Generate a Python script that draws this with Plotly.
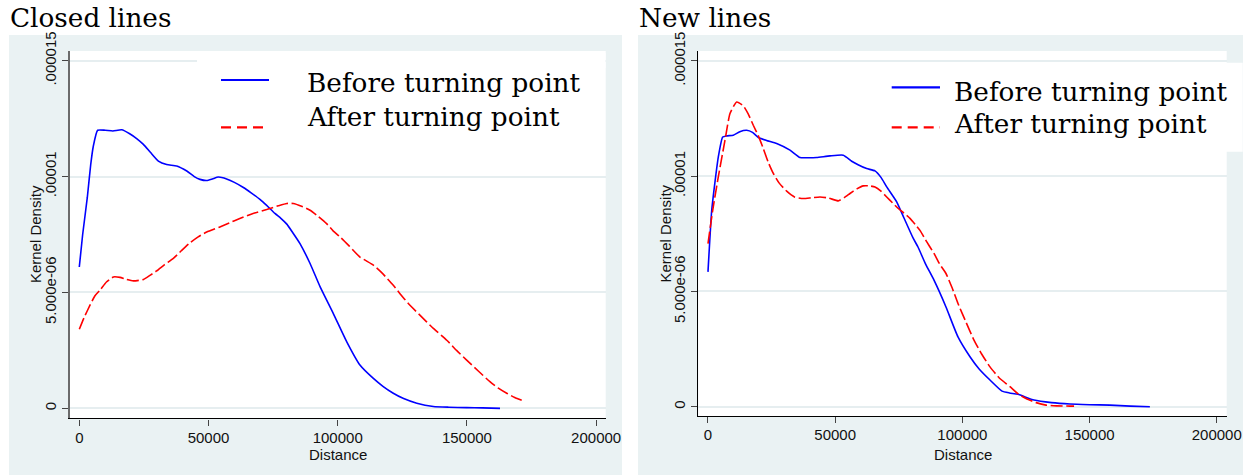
import plotly.graph_objects as go

W, H = 1257, 475

# ---------------- data (density values in units of 1e-6) ----------------
closed_before_x = [0, 1300, 3100, 4400, 5400, 7100, 10000, 13000, 16400, 19500, 22200, 24800,
                   27500, 30600, 33800, 37700, 41600, 44500, 46700, 49300, 51500, 53800, 57000,
                   60000, 63500, 66500, 69900, 72500, 75700, 78000, 80300, 82500, 85400, 89300,
                   93200, 98300, 103500, 108600, 113800, 117500, 121500, 125500, 130600, 137000,
                   143000, 149900, 156000, 162800]
closed_before_y = [6.10, 7.50, 9.10, 10.50, 11.30, 12.00, 12.00, 11.97, 12.02, 11.85, 11.64, 11.39,
                   11.05, 10.67, 10.52, 10.46, 10.24, 10.00, 9.88, 9.83, 9.90, 9.98, 9.90,
                   9.75, 9.53, 9.30, 9.02, 8.76, 8.41, 8.20, 7.95, 7.60, 7.11, 6.25,
                   5.24, 4.09, 2.87, 1.87, 1.29, 0.95, 0.65, 0.42, 0.22, 0.08,
                   0.05, 0.03, 0.02, 0.00]

closed_after_x = [0, 2000, 4140, 6000, 8010, 10500, 13200, 15750, 18000, 20900, 24800, 27500,
                  29950, 33000, 36400, 39500, 42800, 46000, 49300, 54400, 58000, 62100, 67000,
                  72500, 77000, 80300, 82800, 86000, 89300, 92500, 95700, 98300, 100900, 104500,
                  108600, 113800, 117500, 121500, 124100, 127500, 131800, 137000, 142200, 146000,
                  149900, 154500, 158900, 162000, 165400, 168500, 172100]
closed_after_y = [3.41, 3.95, 4.45, 4.85, 5.10, 5.45, 5.67, 5.65, 5.57, 5.50, 5.56, 5.75,
                  5.93, 6.20, 6.47, 6.80, 7.14, 7.40, 7.61, 7.83, 8.00, 8.19, 8.40,
                  8.58, 8.74, 8.84, 8.84, 8.72, 8.55, 8.28, 7.97, 7.65, 7.40, 7.00,
                  6.53, 6.18, 5.80, 5.31, 4.95, 4.50, 4.02, 3.45, 2.94, 2.50,
                  2.08, 1.60, 1.15, 0.88, 0.65, 0.47, 0.31]

new_before_x = [0, 1450, 2800, 4050, 5780, 7350, 9950, 12500, 15200, 17500, 19800, 23000,
                27000, 32230, 36160, 39500, 42730, 47960, 53180, 56490, 59000, 62380, 65640,
                68000, 70250, 74170, 77000, 80700, 82550, 85500, 88840, 93550, 98270, 102990,
                106500, 110850, 115570, 118500, 121860, 128140, 135000, 142300, 150000, 158000,
                166000, 173700]
new_before_y = [5.85, 8.50, 9.80, 10.83, 11.70, 11.75, 11.78, 11.93, 11.99, 11.90, 11.68, 11.55,
                11.42, 11.13, 10.81, 10.80, 10.81, 10.88, 10.91, 10.65, 10.50, 10.33, 10.23,
                9.95, 9.54, 8.89, 8.20, 7.30, 6.93, 6.20, 5.49, 4.33, 3.03, 2.17,
                1.65, 1.16, 0.68, 0.60, 0.54, 0.29, 0.18, 0.12, 0.09, 0.07,
                0.03, 0.00]

new_after_x = [0, 1850, 4050, 6680, 8650, 11280, 13880, 15800, 17810, 19800, 21740, 23700,
               25670, 28000, 30930, 34000, 37460, 40500, 44030, 47500, 51220, 53500, 55820,
               58500, 61050, 63500, 65640, 68000, 70250, 72500, 74800, 77000, 79400, 81500,
               83330, 86000, 88840, 91000, 93550, 96000, 98270, 101500, 104560, 107500,
               110850, 114500, 118710, 122000, 125000, 129000, 132860, 137000, 142300, 143900]
new_after_y = [7.08, 8.52, 9.97, 11.56, 12.72, 13.22, 13.05, 12.70, 12.21, 11.75, 11.20, 10.60,
               10.12, 9.70, 9.35, 9.10, 9.03, 9.06, 9.10, 9.05, 8.93, 9.07, 9.25,
               9.45, 9.58, 9.58, 9.53, 9.35, 9.10, 8.85, 8.60, 8.40, 8.17, 7.90,
               7.65, 7.15, 6.65, 6.20, 5.78, 5.15, 4.48, 3.65, 2.89, 2.30,
               1.73, 1.25, 0.87, 0.55, 0.36, 0.18, 0.07, 0.04, 0.03, 0.03]

panel_titles = ["Closed lines", "New lines"]
series_names = ["Before turning point", "After turning point"]
x_title = "Distance"
y_title = "Kernel Density"
x_tickvals = [0, 50000, 100000, 150000, 200000]
x_ticktext = ["0", "50000", "100000", "150000", "200000"]
y_tickvals = [0, 5, 10, 15]
y_ticktext = ["0", "5.000e-06", ".00001", ".000015"]

# ---------------- styling ----------------
BLUE = "#0000ff"
RED = "#ff0000"
PANEL = "#eaf2f3"
GRID = "#e6eef0"
SANS = "Liberation Sans, Arial, sans-serif"
SERIF = "DejaVu Serif, Georgia, serif"
DASH = "12px,3.5px"


def fx(p):
    """window pixel x -> paper fraction"""
    return p / W


def fy(p):
    """window pixel y -> paper fraction"""
    return 1 - p / H


fig = go.Figure()

panels = [
    dict(xa="x", ya="y", bx=closed_before_x, by=closed_before_y, ax=closed_after_x, ay=closed_after_y),
    dict(xa="x2", ya="y2", bx=new_before_x, by=new_before_y, ax=new_after_x, ay=new_after_y),
]
for p in panels:
    fig.add_trace(go.Scatter(x=p["bx"], y=p["by"], xaxis=p["xa"], yaxis=p["ya"], mode="lines",
                             name=series_names[0], showlegend=False,
                             line=dict(color=BLUE, width=1.6, shape="spline", smoothing=0.5)))
    fig.add_trace(go.Scatter(x=p["ax"], y=p["ay"], xaxis=p["xa"], yaxis=p["ya"], mode="lines",
                             name=series_names[1], showlegend=False,
                             line=dict(color=RED, width=1.6, dash=DASH, shape="spline", smoothing=0.5)))

xcommon = dict(tickmode="array", tickvals=x_tickvals, ticktext=x_ticktext, ticks="outside",
               ticklen=6, tickwidth=1.2, tickcolor="#444", showline=True, linecolor="black",
               linewidth=1.4, showgrid=False, zeroline=False, automargin=False,
               ticklabelstandoff=-1,
               tickfont=dict(family=SANS, size=15, color="#111"))
ycommon = dict(tickmode="array", tickvals=y_tickvals, ticktext=y_ticktext, ticks="outside",
               ticklen=6, tickwidth=1.2, tickcolor="#444", showline=True, tickangle=-90,
               showgrid=True, gridcolor=GRID, gridwidth=1.6, zeroline=False, automargin=False,
               tickfont=dict(family=SANS, size=15, color="#111"))

fig.update_layout(
    width=W, height=H, autosize=False,
    margin=dict(l=0, r=0, t=0, b=0, pad=0, autoexpand=False),
    paper_bgcolor="white", plot_bgcolor="white", showlegend=False,
    xaxis=dict(domain=[fx(70), fx(605.7)], anchor="y", range=[-3600, 203700], **xcommon),
    yaxis=dict(domain=[fy(418.3), fy(51)], anchor="x", range=[-0.43, 15.42],
               linecolor="#6b6b6b", linewidth=2, **ycommon),
    xaxis2=dict(domain=[fx(698.3), fx(1226.7)], anchor="y2", range=[-3810, 203900], **xcommon),
    yaxis2=dict(domain=[fy(416), fy(51)], anchor="x2", range=[-0.40, 15.43],
                linecolor="black", linewidth=1.4, **ycommon),
)

shapes = []
# grey graph regions
for x0, x1 in [(9, 622), (638, 1243)]:
    shapes.append(dict(type="rect", xref="paper", yref="paper", x0=fx(x0), x1=fx(x1),
                       y0=fy(H), y1=fy(35), fillcolor=PANEL, line=dict(width=0), layer="below"))
# white plot regions
for x0, x1, yb in [(70, 605.7, 418.3), (698.3, 1226.7, 416)]:
    shapes.append(dict(type="rect", xref="paper", yref="paper", x0=fx(x0), x1=fx(x1),
                       y0=fy(yb), y1=fy(51), fillcolor="white", line=dict(width=0), layer="below"))
# right legend box spills over the plot edge
shapes.append(dict(type="rect", xref="paper", yref="paper", x0=fx(1200), x1=fx(1242.7),
                   y0=fy(151.7), y1=fy(62.7), fillcolor="white", line=dict(width=0), layer="below"))
# left legend box hides part of the top grid line
shapes.append(dict(type="rect", xref="paper", yref="paper", x0=fx(197), x1=fx(605.5),
                   y0=fy(68), y1=fy(53), fillcolor="white", line=dict(width=0), layer="above"))

# legend keys
legend_specs = [
    dict(kx0=221, kx1=269, kb=80, ka=127.3, tx=305, tb=83.5, ta=117),
    dict(kx0=891.7, kx1=940, kb=87.3, ka=127.3, tx=951.7, tb=92, ta=124),
]
annotations = []
for s in legend_specs:
    shapes.append(dict(type="line", xref="paper", yref="paper", x0=fx(s["kx0"]), x1=fx(s["kx1"]),
                       y0=fy(s["kb"]), y1=fy(s["kb"]), line=dict(color=BLUE, width=2.2), layer="above"))
    shapes.append(dict(type="line", xref="paper", yref="paper", x0=fx(s["kx0"]), x1=fx(s["kx1"]),
                       y0=fy(s["ka"]), y1=fy(s["ka"]), line=dict(color=RED, width=2.2, dash="10px,6px"),
                       layer="above"))
    annotations.append(dict(xref="paper", yref="paper", x=fx(s["tx"]), y=fy(s["tb"]),
                            xanchor="left", yanchor="middle", showarrow=False, text=series_names[0],
                            font=dict(family=SERIF, size=26.3, color="black")))
    annotations.append(dict(xref="paper", yref="paper", x=fx(s["tx"]), y=fy(s["ta"]),
                            xanchor="left", yanchor="middle", showarrow=False, text=series_names[1],
                            font=dict(family=SERIF, size=26.3, color="black")))

# panel titles
for t, x in zip(panel_titles, [8, 637]):
    annotations.append(dict(xref="paper", yref="paper", x=fx(x), y=fy(18), xanchor="left",
                            yanchor="middle", showarrow=False, text=t,
                            font=dict(family=SERIF, size=26.3, color="black")))

# axis titles
for cx in [337.9, 962.5]:
    annotations.append(dict(xref="paper", yref="paper", x=fx(cx), y=fy(454.5), xanchor="center",
                            yanchor="middle", showarrow=False, text=x_title,
                            font=dict(family=SANS, size=15, color="#111")))
for cx, cy in [(35.5, 234.6), (665, 233.5)]:
    annotations.append(dict(xref="paper", yref="paper", x=fx(cx), y=fy(cy), xanchor="center",
                            yanchor="middle", showarrow=False, text=y_title, textangle=-90,
                            font=dict(family=SANS, size=15, color="#111")))

fig.update_layout(shapes=shapes, annotations=annotations)
fig.write_html("out.html", config={"displayModeBar": False, "responsive": False},
               post_script="document.body.style.margin='0px';document.body.style.overflow='hidden';")
